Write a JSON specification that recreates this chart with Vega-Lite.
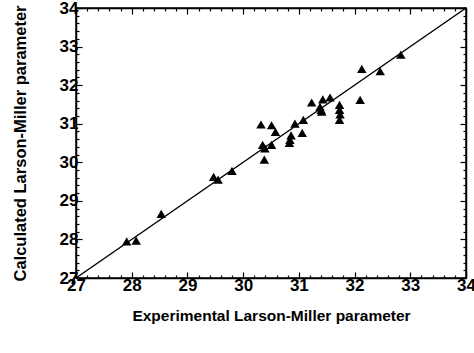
{
  "$schema": "https://vega.github.io/schema/vega-lite/v6.json",
  "width": 390,
  "height": 270,
  "autosize": {"type": "none"},
  "padding": {"left": 76, "top": 8, "right": 8, "bottom": 75},
  "background": "white",
  "config": {
    "view": {"stroke": "black", "strokeWidth": 1.5},
    "axis": {
      "grid": false,
      "domainColor": "black",
      "domainWidth": 1.5,
      "tickColor": "black",
      "tickWidth": 1.2,
      "labelColor": "black",
      "titleColor": "black",
      "labelFont": "Liberation Sans",
      "titleFont": "Liberation Sans",
      "labelFontWeight": "bold",
      "titleFontWeight": "bold",
      "labelFontSize": 17,
      "titleFontSize": 15.5
    }
  },
  "datasets": {
    "points": [
      {"exp": 27.91, "calc": 27.95},
      {"exp": 28.08, "calc": 27.97},
      {"exp": 28.53, "calc": 28.66},
      {"exp": 29.47, "calc": 29.62},
      {"exp": 29.55, "calc": 29.55},
      {"exp": 29.80, "calc": 29.78},
      {"exp": 30.32, "calc": 30.98},
      {"exp": 30.35, "calc": 30.45},
      {"exp": 30.39, "calc": 30.36},
      {"exp": 30.38, "calc": 30.07},
      {"exp": 30.51, "calc": 30.96},
      {"exp": 30.51, "calc": 30.45},
      {"exp": 30.58, "calc": 30.79},
      {"exp": 30.83, "calc": 30.50},
      {"exp": 30.84, "calc": 30.58},
      {"exp": 30.86, "calc": 30.70},
      {"exp": 30.93, "calc": 31.00},
      {"exp": 31.06, "calc": 30.76},
      {"exp": 31.08, "calc": 31.10},
      {"exp": 31.23, "calc": 31.55},
      {"exp": 31.38, "calc": 31.44},
      {"exp": 31.41, "calc": 31.31},
      {"exp": 31.43, "calc": 31.63},
      {"exp": 31.40, "calc": 31.36},
      {"exp": 31.56, "calc": 31.68},
      {"exp": 31.73, "calc": 31.49},
      {"exp": 31.73, "calc": 31.36},
      {"exp": 31.74, "calc": 31.24},
      {"exp": 31.73, "calc": 31.10},
      {"exp": 32.10, "calc": 31.62},
      {"exp": 32.13, "calc": 32.42},
      {"exp": 32.46, "calc": 32.36},
      {"exp": 32.83, "calc": 32.79}
    ],
    "line": [
      {"exp": 27, "calc": 27},
      {"exp": 34, "calc": 34}
    ]
  },
  "layer": [
    {
      "data": {"name": "line"},
      "mark": {"type": "line", "color": "black", "strokeWidth": 1.5},
      "encoding": {
        "x": {"field": "exp", "type": "quantitative",
          "scale": {"domain": [27, 34], "nice": false, "zero": false},
          "axis": {"orient": "bottom", "values": [27, 28, 29, 30, 31, 32, 33, 34], "tickSize": -6, "labelPadding": 5, "labelFlush": false, "title": "Experimental Larson-Miller parameter", "titlePadding": 15}},
        "y": {"field": "calc", "type": "quantitative",
          "scale": {"domain": [27, 34], "nice": false, "zero": false},
          "axis": {"orient": "left", "values": [27, 28, 29, 30, 31, 32, 33, 34], "tickSize": -6, "labelPadding": 4, "labelFlush": false, "title": "Calculated Larson-Miller parameter", "titleFontSize": 16.5, "titlePadding": 31}}
      }
    },
    {
      "data": {"name": "points"},
      "mark": {"type": "point", "shape": "triangle-up", "filled": true, "color": "black", "opacity": 1, "size": 90},
      "encoding": {
        "x": {"field": "exp", "type": "quantitative",
          "axis": {"orient": "top", "values": [27, 28, 29, 30, 31, 32, 33, 34], "tickSize": -6, "labels": false, "title": null}},
        "y": {"field": "calc", "type": "quantitative",
          "axis": {"orient": "right", "values": [27, 28, 29, 30, 31, 32, 33, 34], "tickSize": -6, "labels": false, "title": null}}
      }
    },
    {
      "data": {"name": "line"},
      "mark": {"type": "line", "opacity": 0},
      "encoding": {
        "x": {"field": "exp", "type": "quantitative",
          "axis": {"orient": "bottom", "values": [27.2, 27.4, 27.6, 27.8, 28.2, 28.4, 28.6, 28.8, 29.2, 29.4, 29.6, 29.8, 30.2, 30.4, 30.6, 30.8, 31.2, 31.4, 31.6, 31.8, 32.2, 32.4, 32.6, 32.8, 33.2, 33.4, 33.6, 33.8], "tickSize": -3, "labels": false, "title": null, "domain": false}},
        "y": {"field": "calc", "type": "quantitative",
          "axis": {"orient": "left", "values": [27.2, 27.4, 27.6, 27.8, 28.2, 28.4, 28.6, 28.8, 29.2, 29.4, 29.6, 29.8, 30.2, 30.4, 30.6, 30.8, 31.2, 31.4, 31.6, 31.8, 32.2, 32.4, 32.6, 32.8, 33.2, 33.4, 33.6, 33.8], "tickSize": -3, "labels": false, "title": null, "domain": false}}
      }
    },
    {
      "data": {"name": "line"},
      "mark": {"type": "line", "opacity": 0},
      "encoding": {
        "x": {"field": "exp", "type": "quantitative",
          "axis": {"orient": "top", "values": [27.2, 27.4, 27.6, 27.8, 28.2, 28.4, 28.6, 28.8, 29.2, 29.4, 29.6, 29.8, 30.2, 30.4, 30.6, 30.8, 31.2, 31.4, 31.6, 31.8, 32.2, 32.4, 32.6, 32.8, 33.2, 33.4, 33.6, 33.8], "tickSize": -3, "labels": false, "title": null, "domain": false}},
        "y": {"field": "calc", "type": "quantitative",
          "axis": {"orient": "right", "values": [27.2, 27.4, 27.6, 27.8, 28.2, 28.4, 28.6, 28.8, 29.2, 29.4, 29.6, 29.8, 30.2, 30.4, 30.6, 30.8, 31.2, 31.4, 31.6, 31.8, 32.2, 32.4, 32.6, 32.8, 33.2, 33.4, 33.6, 33.8], "tickSize": -3, "labels": false, "title": null, "domain": false}}
      }
    }
  ],
  "resolve": {"axis": {"x": "independent", "y": "independent"}}
}
